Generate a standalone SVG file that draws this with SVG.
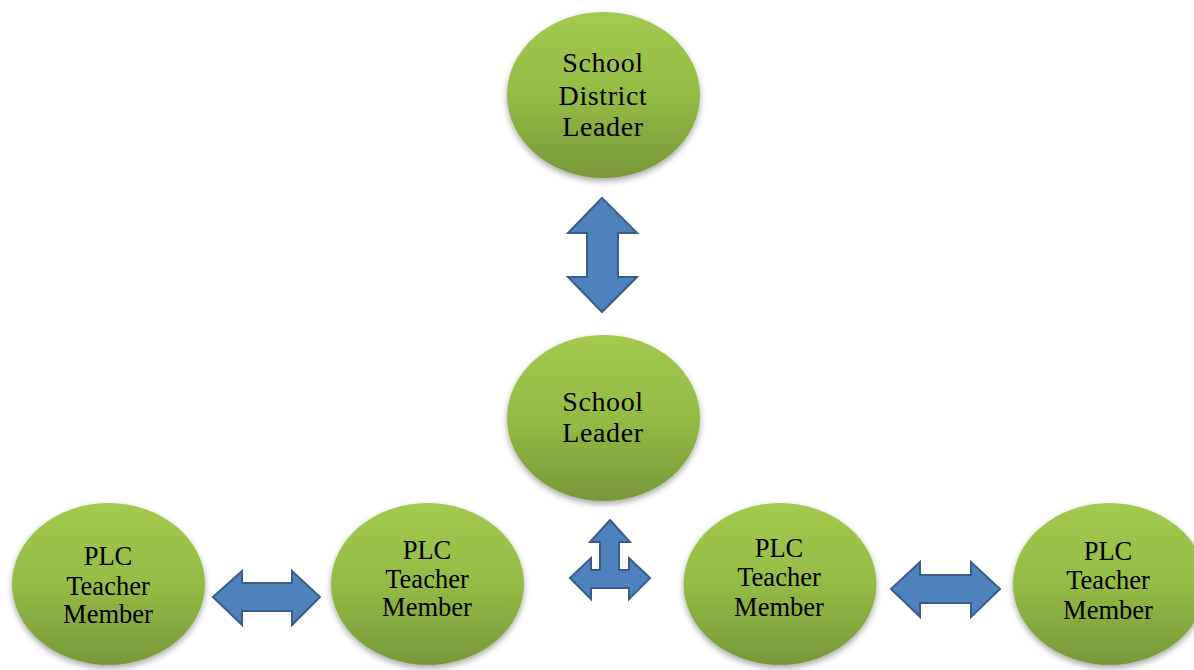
<svg xmlns="http://www.w3.org/2000/svg" width="1194" height="670" viewBox="0 0 1194 670">
<defs>
<linearGradient id="g" x1="0" y1="0" x2="0" y2="1">
<stop offset="0" stop-color="#a3c94f"/>
<stop offset="0.5" stop-color="#94bb45"/>
<stop offset="1" stop-color="#78983a"/>
</linearGradient>
<filter id="sh" x="-20%" y="-20%" width="140%" height="150%">
<feGaussianBlur in="SourceAlpha" stdDeviation="3"/>
<feOffset dx="0" dy="3" result="b"/>
<feComponentTransfer><feFuncA type="linear" slope="0.35"/></feComponentTransfer>
<feMerge><feMergeNode/><feMergeNode in="SourceGraphic"/></feMerge>
</filter>
</defs>
<style>
.n{fill:url(#g);filter:url(#sh)}
.t{font-family:"Liberation Serif","Times New Roman",serif;fill:#000;text-anchor:middle}
.b{font-size:28px;letter-spacing:0.6px}
.s{font-size:26.5px}
.a{fill:#4f81bd;stroke:#385d8a;stroke-width:2;stroke-linejoin:miter}
</style>
<rect width="1194" height="670" fill="#fff"/>
<g id="district">
<ellipse class="n" cx="603.5" cy="95" rx="96.5" ry="83"/>
<text class="t b" x="603" y="72">School</text>
<text class="t b" x="603" y="105">District</text>
<text class="t b" x="603" y="136">Leader</text>
</g>
<g id="school">
<ellipse class="n" cx="603.5" cy="418" rx="96.5" ry="83"/>
<text class="t b" x="603" y="411">School</text>
<text class="t b" x="603" y="442">Leader</text>
</g>
<g id="plc1">
<ellipse class="n" cx="108.5" cy="584" rx="96.5" ry="81"/>
<text class="t s" x="108" y="565">PLC</text>
<text class="t s" x="108" y="595">Teacher</text>
<text class="t s" x="108" y="623">Member</text>
</g>
<g id="plc2">
<ellipse class="n" cx="427.5" cy="584" rx="96.5" ry="81"/>
<text class="t s" x="427" y="559">PLC</text>
<text class="t s" x="427" y="588">Teacher</text>
<text class="t s" x="427" y="616">Member</text>
</g>
<g id="plc3">
<ellipse class="n" cx="780" cy="584" rx="96.5" ry="81"/>
<text class="t s" x="779" y="557">PLC</text>
<text class="t s" x="779" y="586">Teacher</text>
<text class="t s" x="779" y="616">Member</text>
</g>
<g id="plc4">
<ellipse class="n" cx="1109.5" cy="584" rx="96.5" ry="81"/>
<text class="t s" x="1108" y="560">PLC</text>
<text class="t s" x="1108" y="589">Teacher</text>
<text class="t s" x="1108" y="619">Member</text>
</g>
<g id="connectors">
<path class="a" d="M602,198 L637,233 L618,233 L618,277 L637,277 L602,312 L568,277 L587,277 L587,233 L568,233 Z"/>
<path class="a" d="M213,597 L242,571 L242,583 L292,583 L292,571 L320,597 L292,625 L292,611 L242,611 L242,625 Z"/>
<path class="a" d="M891,589 L920,562 L920,575 L971,575 L971,562 L1000,589 L971,617 L971,603 L920,603 L920,617 Z"/>
<path class="a" d="M610,520 L630,542 L619,542 L619,570 L629,570 L629,558 L650,578 L629,599 L629,588 L591,588 L591,599 L570,578 L591,558 L591,570 L600,570 L600,542 L590,542 Z"/>
</g>
</svg>
